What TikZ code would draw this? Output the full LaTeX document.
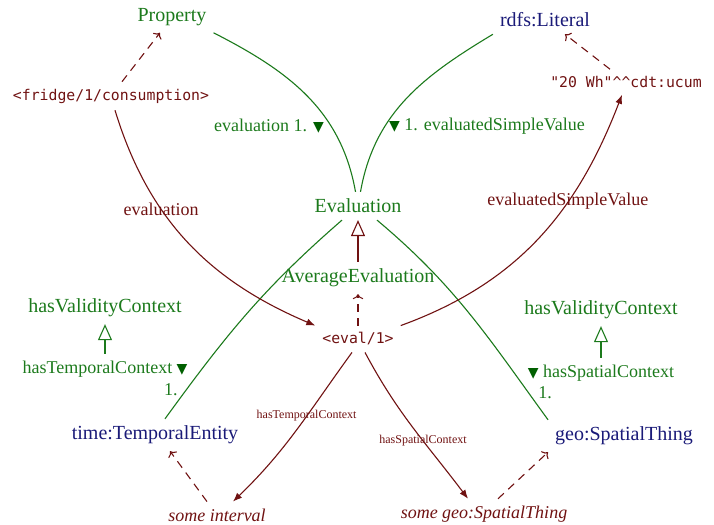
\documentclass[tikz,border=0pt]{standalone}
\usepackage{fontspec}
\setmainfont{Liberation Serif}
\setmonofont{DejaVu Sans Mono}
\newfontfamily\symfont{DejaVu Sans}
\usetikzlibrary{arrows.meta}

\definecolor{clsgreen}{RGB}{28,122,28}
\definecolor{markgreen}{RGB}{0,95,0}
\definecolor{resred}{RGB}{112,18,18}
\definecolor{extblue}{RGB}{26,26,120}

\newcommand{\cardmark}{{\color{markgreen}\symfont\fontsize{7}{8}\selectfont\char"25BC}}

\begin{document}
\begin{tikzpicture}[x=.5pt,y=.5pt]

        \useasboundingbox (0,0) rectangle (714,525);

        \begin{scope}[every node/.style={text=clsgreen}]
          \node (prop)  at (172,508) {Property};
          \node (evalc) at (358,319) {Evaluation};
          \node (avg)   at (358,247) {AverageEvaluation};
          \node (hvcl)  at (105,217) {hasValidityContext};
          \node (hvcr)  at (601,215) {hasValidityContext};
        \end{scope}

        \begin{scope}[every node/.style={text=clsgreen, font=\fontsize{9}{11}\selectfont}]
          \node (htc)   at (105,156) {hasTemporalContext \cardmark};
          \node (hsc)   at (601,152) {\cardmark{} hasSpatialContext};
          \node (htcn)  at (171,135) {1.};
          \node (hscn)  at (545,132) {1.};
          \node (evl)   at (269,399) {evaluation 1. \cardmark};
          \node (esvl)  at (487,399) {\cardmark{} 1. evaluatedSimpleValue};
        \end{scope}

        \begin{scope}[every node/.style={text=extblue}]
          \node (lit)  at (545,505) {rdfs:Literal};
          \node (time) at (155,90)  {time:TemporalEntity};
          \node (geo)  at (624,89)  {geo:SpatialThing};
        \end{scope}

        \begin{scope}[every node/.style={text=resred, font=\ttfamily\fontsize{7.4}{9}\selectfont}]
          \node (fridge) at (111,429) {<fridge/1/consumption>};
          \node (val)    at (626,443) {"20 Wh"\textasciicircum\textasciicircum cdt:ucum};
          \node (ev1)    at (358,186) {<eval/1>};
        \end{scope}

        \begin{scope}[every node/.style={text=resred, font=\fontsize{9}{11}\selectfont\itshape}]
          \node (someint) at (217,10) {some interval};
          \node (somegeo) at (484,11) {some geo:SpatialThing};
        \end{scope}

        \begin{scope}[every edge/.style={draw=clsgreen, line width=.55pt}]
          \path (prop.south east) edge[out=-27,in=100] (evalc.100);
          \path (lit.south west) edge[out=211,in=80] (evalc.80);
          \path ([xshift=-8pt]evalc.south) edge[out=221,in=54] ([xshift=5pt]time.north);
          \path ([xshift=9.5pt]evalc.south) edge[out=-40,in=126] (geo.north west);
        \end{scope}

        \begin{scope}[every edge/.style={draw=resred, line width=.55pt, -{Latex[length=4.5pt,width=3.5pt]}},
                      every node/.style={text=resred, font=\fontsize{9}{11}\selectfont}]
          \path ([xshift=2pt]fridge.south) edge[out=-73,in=157] node[pos=.35] {evaluation} (ev1.north west);
          \path (ev1.north east) edge[out=20,in=-111] node[pos=.65] {evaluatedSimpleValue} ([xshift=-2pt]val.south);
          \path ([xshift=-3pt]ev1.south) edge[out=234,in=44]
            node[pos=.4, font=\fontsize{6}{7}\selectfont] {hasTemporalContext} ([xshift=8pt]someint.north);
          \path ([xshift=3.5pt]ev1.south) edge[out=-62,in=127]
            node[pos=.6, font=\fontsize{6}{7}\selectfont] {hasSpatialContext} ([xshift=-8pt]somegeo.north);
        \end{scope}

        \begin{scope}[every edge/.style={draw=resred, line width=.55pt, dash pattern=on 4pt off 3pt, -{To[length=2.5pt]}}]
          \path ([xshift=5.5pt]fridge.north) edge ([xshift=-6pt]prop.south);
          \path ([xshift=-8pt]val.north) edge ([xshift=10pt]lit.south);
          \path (ev1) edge (avg);
          \path ([xshift=-5pt]someint.north) edge ([xshift=7.5pt]time.south);
          \path ([xshift=7pt]somegeo.north) edge (geo.south west);
        \end{scope}

        \begin{scope}[every edge/.style={draw, line width=.55pt, -{Triangle[open,length=8pt,width=7pt]}}]
          \path (avg) edge[resred] (evalc);
          \path (htc) edge[clsgreen] (hvcl);
          \path (hsc) edge[clsgreen] (hvcr);
        \end{scope}

      \end{tikzpicture}
\end{document}
